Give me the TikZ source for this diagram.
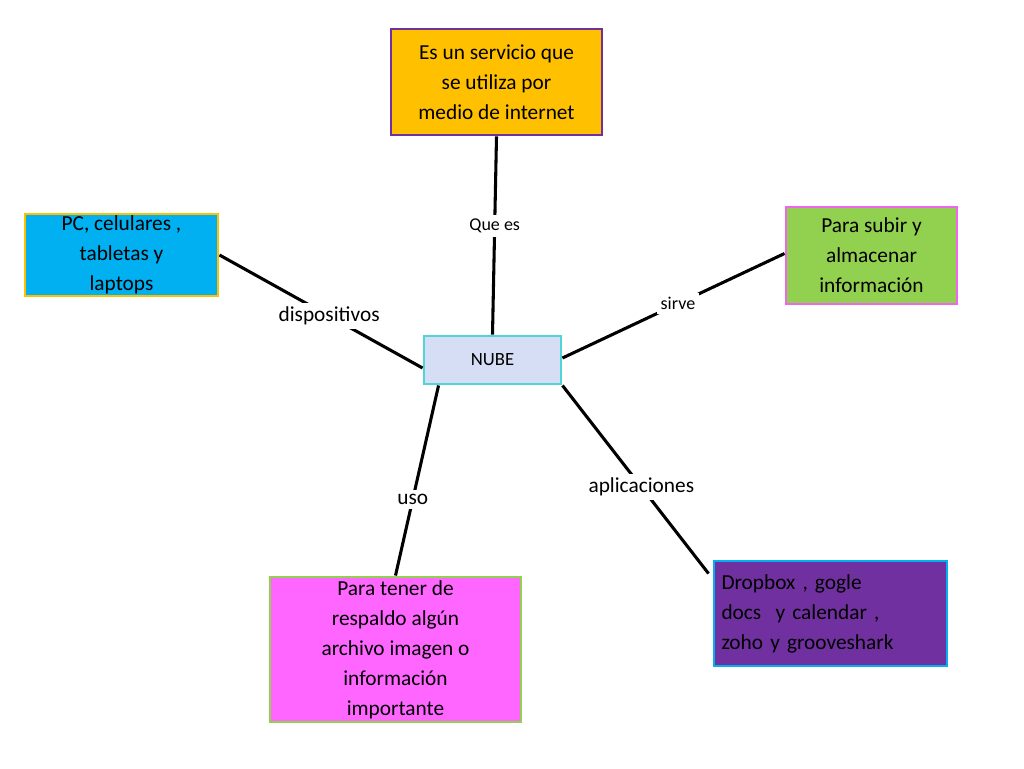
\documentclass[tikz,border=0pt]{standalone}
\usepackage{fontspec}
\setmainfont{Carlito}
\usetikzlibrary{calc}
\definecolor{orng}{HTML}{FFC000}
\definecolor{purp}{HTML}{7030A0}
\definecolor{sky}{HTML}{00B0F0}
\definecolor{lgreen}{HTML}{92D050}
\definecolor{pinkb}{HTML}{EE66EE}
\definecolor{magen}{HTML}{FF66FF}
\definecolor{cyanb}{HTML}{4FD5D6}
\definecolor{nubef}{HTML}{D6DEF5}
\begin{document}
\begin{tikzpicture}[x=0.75pt,y=-0.75pt,
  box/.style={draw,line width=2.2pt,align=center,inner sep=0pt,font=\fontsize{16}{22.5}\selectfont},
  conn/.style={line width=2.3pt},
  lab/.style={fill=white,inner sep=3pt,font=\fontsize{13.5}{16}\selectfont}]
\useasboundingbox (0,0) rectangle (1024,768);
\node[box,fill=orng,draw=purp,minimum width=211*0.75pt,minimum height=106*0.75pt] (top) at (496.5,82) {Es un servicio que\\se utiliza por\\medio de internet};
\node[box,fill=sky,draw=orng,minimum width=193*0.75pt,minimum height=82*0.75pt] (lft) at (121.5,255) {PC, celulares ,\\tabletas y\\laptops};
\node[box,fill=lgreen,draw=pinkb,minimum width=171*0.75pt,minimum height=97*0.75pt] (rgt) at (871.5,255.5) {Para subir y\\almacenar\\información};
\node[box,fill=nubef,draw=cyanb,minimum width=137*0.75pt,minimum height=48*0.75pt,font=\fontsize{14}{17}\selectfont] (n) at (492.5,360) {NUBE};
\node[box,fill=magen,draw=lgreen,minimum width=251*0.75pt,minimum height=145*0.75pt] (bl) at (395.5,649.5) {Para tener de\\respaldo algún\\archivo imagen o\\información\\importante};
\node[box,fill=purp,draw=sky,minimum width=233*0.75pt,minimum height=105*0.75pt,align=left,text width=218*0.75pt] (br) at (830.5,613.5) {Dropbox , gogle\\docs\ \ y calendar ,\\zoho y grooveshark};
\draw[conn] (top.south) -- node[lab,pos=0.45]{Que es} (n.north);
\draw[conn] (lft.east) -- node[lab,pos=0.54,font=\fontsize{16}{18}\selectfont]{dispositivos} ($(n.west)+(0,8)$);
\draw[conn] ($(rgt.west)+(0,-2)$) -- node[lab,pos=0.48]{sirve} ($(n.east)+(0,-2)$);
\draw[conn] ($(n.south west)+(16,0)$) -- node[lab,pos=0.6,font=\fontsize{16}{18}\selectfont]{uso} ($(bl.north)+(0,0)$);
\draw[conn] (n.south east) -- node[lab,pos=0.54,font=\fontsize{16}{18}\selectfont]{aplicaciones} ($(br.north west)+(-4,14)$);
\end{tikzpicture}
\end{document}
